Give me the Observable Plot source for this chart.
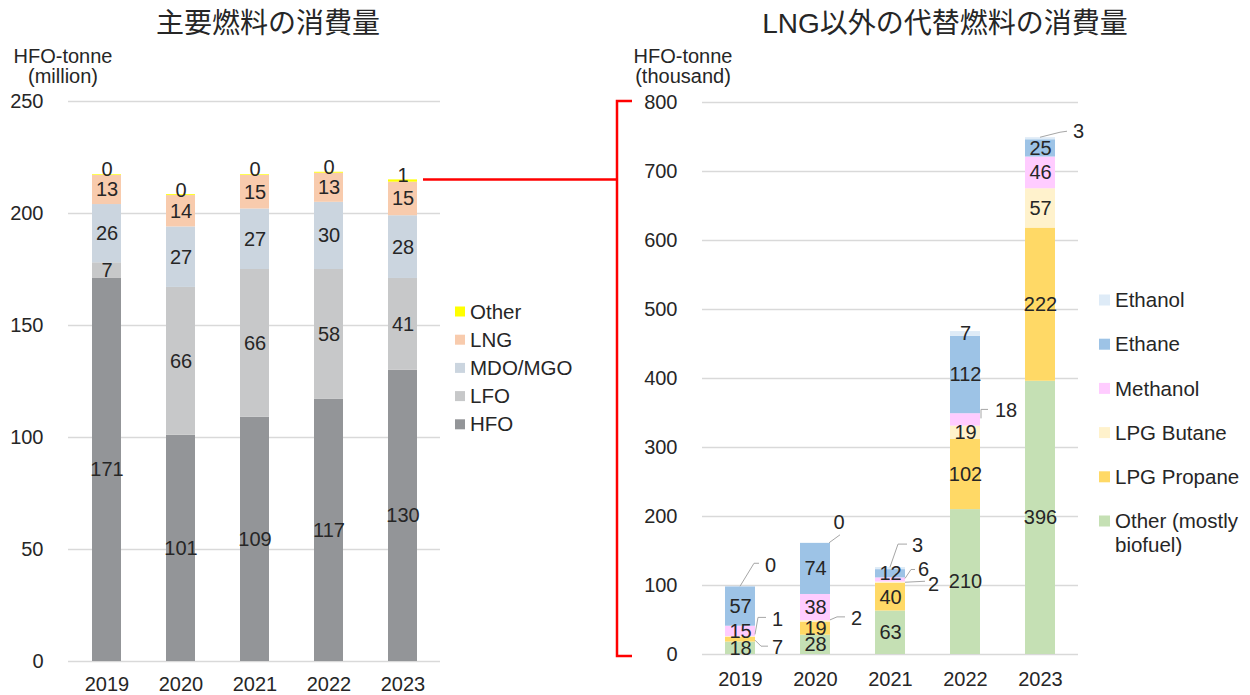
<!DOCTYPE html>
<html>
<head>
<meta charset="utf-8">
<script src="https://cdn.jsdelivr.net/npm/d3@7"></script>
<script src="https://cdn.jsdelivr.net/npm/@observablehq/plot@0.6"></script>
<style>
  html, body { margin: 0; padding: 0; background: #ffffff; }
  #root { position: relative; width: 1250px; height: 695px; overflow: hidden; font-family: "Liberation Sans", Arial, sans-serif; color: #262626; }
  .chart { position: absolute; }
  #overlay { position: absolute; left: 0; top: 0; pointer-events: none; }
</style>
</head>
<body>
<div id="root"></div>
<script>
// ---------------- DATA ----------------
const years = ["2019", "2020", "2021", "2022", "2023"];

// Left chart: main fuels (HFO-tonne, million), bottom to top
const mainFuels = ["HFO", "LFO", "MDO/MGO", "LNG", "Other"];
const hfo       = [171, 101, 109, 117, 130];
const lfo       = [7, 66, 66, 58, 41];
const mdoMgo    = [26, 27, 27, 30, 28];
const lng       = [13, 14, 15, 13, 15];
const otherMain = [0.3, 0.4, 0.3, 0.4, 1];
const leftTicks = [0, 50, 100, 150, 200, 250];

// Right chart: alternative fuels other than LNG (HFO-tonne, thousand), bottom to top
const altFuels  = ["Other (mostly biofuel)", "LPG Propane", "LPG Butane", "Methanol", "Ethane", "Ethanol"];
const biofuel   = [18, 28, 63, 210, 396];
const propane   = [7, 19, 40, 102, 222];
const butane    = [1, 2, 2, 19, 57];
const methanol  = [15, 38, 6, 18, 46];
const ethane    = [57, 74, 12, 112, 25];
const ethanol   = [0.3, 0.3, 3, 7, 3];
const rightTicks = [0, 100, 200, 300, 400, 500, 600, 700, 800];

// Text
const leftTitle  = "主要燃料の消費量";
const rightTitle = "LNG以外の代替燃料の消費量";
const leftUnit   = ["HFO-tonne", "(million)"];
const rightUnit  = ["HFO-tonne", "(thousand)"];

// ---------------- STYLE / LAYOUT ----------------
const mainColors = ["#939598", "#c7c8c9", "#cbd5df", "#f8cbad", "#ffff00"];
const altColors  = ["#c5e0b4", "#ffd966", "#fff2cc", "#ffccff", "#9dc3e6", "#deebf7"];
const TXT = "#262626";
const GRID = "#d9d9d9";
const FONT = "'Liberation Sans', Arial, sans-serif";
const LEFT_POS = {x: 0, y: 90};
const RIGHT_POS = {x: 620, y: 90};

// callout placements (pixel offsets relative to bar right edge and segment middle)
const calloutLayout = {
  "2019|LPG Propane": {path: [[0, 1], [6, 7], [13, 7]], text: [17, 8]},
  "2019|LPG Butane":  {path: [[0, -2], [3, -19], [11, -19]], text: [17, -17]},
  "2019|Ethanol":     {path: [[-15, 0], [-1, -23], [4, -23]], text: [10, -21]},
  "2020|LPG Butane":  {path: [[0, -1], [7, -4], [15, -4]], text: [21, -3]},
  "2020|Ethanol":     {path: [[-1, 0], [10, -8]], text: [9, -21], anchor: "middle"},
  "2021|Ethanol":     {path: [[-15, -1], [-7, -24], [2, -24]], text: [7, -23]},
  "2021|Methanol":    {path: [[0, -1], [6, -10], [10, -10]], text: [13, -10]},
  "2021|LPG Butane":  {path: [[0, 0], [20, -1]], text: [23, 2]},
  "2022|Methanol":    {path: [[1, -1], [1, -10], [8, -10]], text: [15, -9]},
  "2023|Ethanol":     {path: [[-15, -1], [5, -6], [12, -7]], text: [18, -7]}
};

// ---------------- HELPERS ----------------
function stackRows(fuels, series) {
  const rows = [];
  years.forEach((yr, i) => {
    let acc = 0;
    fuels.forEach((f, k) => {
      const v = series[k][i];
      rows.push({year: yr, fuel: f, value: v, y1: acc, y2: acc + v, mid: acc + v / 2});
      acc += v;
    });
  });
  return rows;
}
const fmt = v => String(Math.round(v));

const mainRows = stackRows(mainFuels, [hfo, lfo, mdoMgo, lng, otherMain]);
const altRows = stackRows(altFuels, [biofuel, propane, butane, methanol, ethane, ethanol]);
const isCallout = r => calloutLayout.hasOwnProperty(r.year + "|" + r.fuel);

const baseStyle = {fontFamily: FONT, fontSize: "20px", color: TXT, background: "transparent", overflow: "visible"};

// ---------------- LEFT CHART ----------------
const leftChart = Plot.plot({
  width: 440, height: 605,
  marginTop: 11, marginBottom: 34, marginLeft: 68, marginRight: 0,
  style: baseStyle,
  x: {domain: years, paddingInner: 0.61, paddingOuter: 0.305, label: null, tickSize: 0, tickPadding: 15},
  y: {domain: [0, 250], ticks: leftTicks, label: null, tickSize: 0, tickPadding: 25},
  color: {domain: mainFuels, range: mainColors},
  marks: [
    Plot.ruleY(leftTicks, {stroke: GRID, strokeWidth: 1.3}),
    Plot.barY(mainRows, {x: "year", y1: "y1", y2: "y2", fill: "fuel"}),
    Plot.text(mainRows.filter(r => r.fuel !== "Other"), {x: "year", y: "mid", text: r => fmt(r.value), fill: TXT}),
    Plot.text(mainRows.filter(r => r.fuel === "Other"), {x: "year", y: "mid", text: r => fmt(r.value), fill: TXT, dy: -5})
  ]
});

// ---------------- RIGHT CHART ----------------
const rightChart = Plot.plot({
  width: 460, height: 605,
  marginTop: 12, marginBottom: 41, marginLeft: 82, marginRight: 2,
  style: baseStyle,
  x: {domain: years, paddingInner: 0.6, paddingOuter: 0.3, label: null, tickSize: 0, tickPadding: 17},
  y: {domain: [0, 800], ticks: rightTicks, label: null, tickSize: 0, tickPadding: 25},
  color: {domain: altFuels, range: altColors},
  marks: [
    Plot.ruleY(rightTicks, {stroke: GRID, strokeWidth: 1.3}),
    Plot.barY(altRows, {x: "year", y1: "y1", y2: "y2", fill: "fuel"}),
    Plot.text(altRows.filter(r => !isCallout(r)), {x: "year", y: "mid", text: r => fmt(r.value), fill: TXT})
  ]
});

// ---------------- ASSEMBLE ----------------
const root = document.getElementById("root");
leftChart.classList.add("chart");
leftChart.style.left = LEFT_POS.x + "px";
leftChart.style.top = LEFT_POS.y + "px";
rightChart.classList.add("chart");
rightChart.style.left = RIGHT_POS.x + "px";
rightChart.style.top = RIGHT_POS.y + "px";
root.appendChild(leftChart);
root.appendChild(rightChart);

// callouts with leader lines on the right chart (through the chart's own scales)
{
  const sx = rightChart.scale("x"), sy = rightChart.scale("y");
  const bw = sx.bandwidth;
  const g = d3.select(rightChart).append("g").attr("font-family", FONT).attr("font-size", 20);
  altRows.filter(isCallout).forEach(r => {
    const lay = calloutLayout[r.year + "|" + r.fuel];
    const re = sx.apply(r.year) + bw;
    const ym = sy.apply(r.mid);
    g.append("path")
      .attr("d", d3.line()(lay.path.map(([dx, dy]) => [re + dx, ym + dy])))
      .attr("fill", "none").attr("stroke", "#a6a6a6").attr("stroke-width", 1);
    g.append("text")
      .attr("x", re + lay.text[0]).attr("y", ym + lay.text[1])
      .attr("dy", "0.35em")
      .attr("text-anchor", lay.anchor || "start")
      .attr("fill", TXT)
      .text(fmt(r.value));
  });
}

// overlay: titles, unit labels, legends, red bracket
const W = 1250, H = 695;
const ov = d3.select(root).append("svg").attr("id", "overlay").attr("width", W).attr("height", H)
  .attr("font-family", FONT).attr("fill", TXT);

ov.append("text").attr("x", 268).attr("y", 33).attr("text-anchor", "middle")
  .attr("font-family", "'Noto Sans CJK JP', sans-serif").attr("font-size", 28).text(leftTitle);
ov.append("text").attr("x", 945).attr("y", 33).attr("text-anchor", "middle")
  .attr("font-family", "'Liberation Sans', 'Noto Sans CJK JP', sans-serif").attr("font-size", 28).text(rightTitle);

function unitLabel(cx, lines) {
  lines.forEach((s, i) => ov.append("text").attr("x", cx).attr("y", 63 + i * 20)
    .attr("text-anchor", "middle").attr("font-size", 20).text(s));
}
unitLabel(63, leftUnit);
unitLabel(683, rightUnit);

// legends (top to bottom = reverse stack order)
function legend(x, y0, step, names, colors, size) {
  const items = names.map((n, i) => ({n, c: colors[i]})).reverse();
  items.forEach((it, i) => {
    const cy = y0 + i * step;
    ov.append("rect").attr("x", x).attr("y", cy - size / 2).attr("width", size).attr("height", size).attr("fill", it.c);
    const lines = it.n === "Other (mostly biofuel)" ? ["Other (mostly", "biofuel)"] : [it.n];
    lines.forEach((s, j) => ov.append("text").attr("x", x + size + 5).attr("y", cy + j * 24)
      .attr("dy", "0.35em").attr("font-size", 20.5).text(s));
  });
}
legend(455, 311.5, 28.2, mainFuels, mainColors, 10);
legend(1099, 300, 44.2, altFuels, altColors, 11);

// red bracket linking 2023 total of the left chart to the right chart's axis
{
  const lx = leftChart.scale("x"), ly = leftChart.scale("y");
  const ry = rightChart.scale("y");
  const total2023 = mainRows.filter(r => r.year === "2023").reduce((s, r) => s + r.value, 0);
  const xStart = LEFT_POS.x + lx.apply("2023") + lx.bandwidth + 6;
  const yStart = LEFT_POS.y + ly.apply(total2023);
  const bx = RIGHT_POS.x - 3;
  const yTop = RIGHT_POS.y + ry.apply(800) - 1;
  const yBot = RIGHT_POS.y + ry.apply(0) + 2;
  const red = {stroke: "#ff0000", "stroke-width": 2.5, fill: "none"};
  const p1 = ov.append("path").attr("d", `M${xStart},${yStart}H${bx}`);
  const p2 = ov.append("path").attr("d", `M${bx + 15},${yTop}H${bx}V${yBot}H${bx + 15}`);
  [p1, p2].forEach(p => Object.entries(red).forEach(([k, v]) => p.attr(k, v)));
}
</script>
</body>
</html>
